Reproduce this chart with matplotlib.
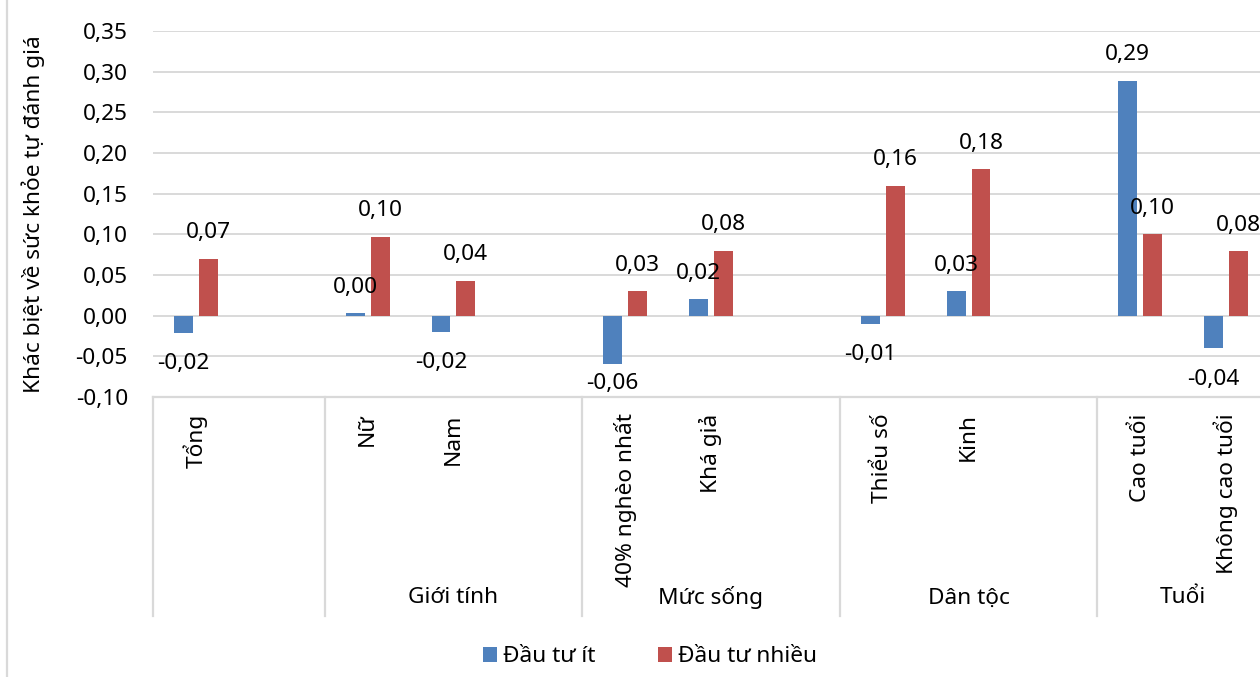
import numpy as np
import matplotlib
matplotlib.use('Agg')
import matplotlib.pyplot as plt
from matplotlib.ticker import FuncFormatter, MultipleLocator
from matplotlib.transforms import blended_transform_factory
from matplotlib.lines import Line2D

plt.rcParams['font.family'] = ['Noto Sans', 'DejaVu Sans']

# slot index of each category on the x axis (empty slots separate the groups)
positions = [0, 2, 3, 5, 6, 8, 9, 11, 12]
categories = ['Tổng', 'Nữ', 'Nam', '40% nghèo nhất', 'Khá giả',
              'Thiểu số', 'Kinh', 'Cao tuổi', 'Không cao tuổi']
dau_tu_it = [-0.021, 0.003, -0.02, -0.06, 0.02, -0.01, 0.03, 0.289, -0.04]
dau_tu_nhieu = [0.07, 0.097, 0.043, 0.03, 0.08, 0.16, 0.18, 0.10, 0.079]

groups = ['', 'Giới tính', 'Mức sống', 'Dân tộc', 'Tuổi']
group_edges = [-0.5, 1.5, 4.5, 7.5, 10.5, 12.5]

blue = '#4F81BD'
red = '#C0504D'
grid = '#D9D9D9'
fs = 16.3

fig = plt.figure(figsize=(12.6, 6.77), dpi=100)
ax = fig.add_axes([153/1260, 1 - 397/677, 1116/1260, 366/677])

x = np.array(positions)
w = 0.22
ax.bar(x - 0.145, dau_tu_it, w, color=blue, label='Đầu tư ít', zorder=3)
ax.bar(x + 0.145, dau_tu_nhieu, w, color=red, label='Đầu tư nhiều', zorder=3)

ax.set_xlim(-0.5, 12.5)
ax.set_ylim(-0.10, 0.35)
ax.yaxis.set_major_locator(MultipleLocator(0.05))
ax.yaxis.set_major_formatter(FuncFormatter(lambda v, p: f'{v:.2f}'.replace('.', ',')))
ax.grid(axis='y', color=grid, lw=1.4, zorder=0)
ax.set_xticks([])
ax.tick_params(axis='y', length=0, pad=18, labelsize=fs)
for s in ax.spines.values():
    s.set_visible(False)
ax.set_ylabel('Khác biệt về sức khỏe tự đánh giá', fontsize=fs)
ax.yaxis.set_label_coords(-0.097, 0.5)

# value labels, kept inside the plot area at the bottom
def fmt(v):
    return f'{v:.2f}'.replace('.', ',')

for dx, vals in [(-0.145, dau_tu_it), (0.145, dau_tu_nhieu)]:
    for xi, v in zip(x, vals):
        if v >= 0:
            y = v + 0.032
        else:
            y = max(v - 0.038, -0.0835)
        ax.text(xi + dx, y, fmt(v), ha='center', va='center', fontsize=fs, zorder=4)

# category axis box with group separators
tr = blended_transform_factory(ax.transData, ax.transAxes)
ax.add_line(Line2D([-0.5, 12.5], [0, 0], transform=tr, color=grid, lw=1.6, clip_on=False))
for e in group_edges[:-1]:
    ax.add_line(Line2D([e, e], [0, -0.598], transform=tr, color=grid, lw=1.6, clip_on=False))

for xi, c in zip(positions, categories):
    ax.text(xi, -0.045, c, rotation=90, ha='center', va='top', fontsize=fs,
            transform=tr, clip_on=False)

for g, a, b in zip(groups, group_edges[:-1], group_edges[1:]):
    ax.text((a + b) / 2, -0.549, g, ha='center', va='center', fontsize=fs,
            transform=tr, clip_on=False)

fig.legend(loc='center', bbox_to_anchor=(650/1260, 1 - 657/677), ncol=2,
           frameon=False, fontsize=fs, handlelength=0.6, handleheight=0.6,
           handletextpad=0.25, columnspacing=2.8)

# outer chart frame edge on the left
fig.add_artist(Line2D([7/1260, 7/1260], [0, 1], color=grid, lw=1.6))

fig.savefig('out.png', dpi=100)
